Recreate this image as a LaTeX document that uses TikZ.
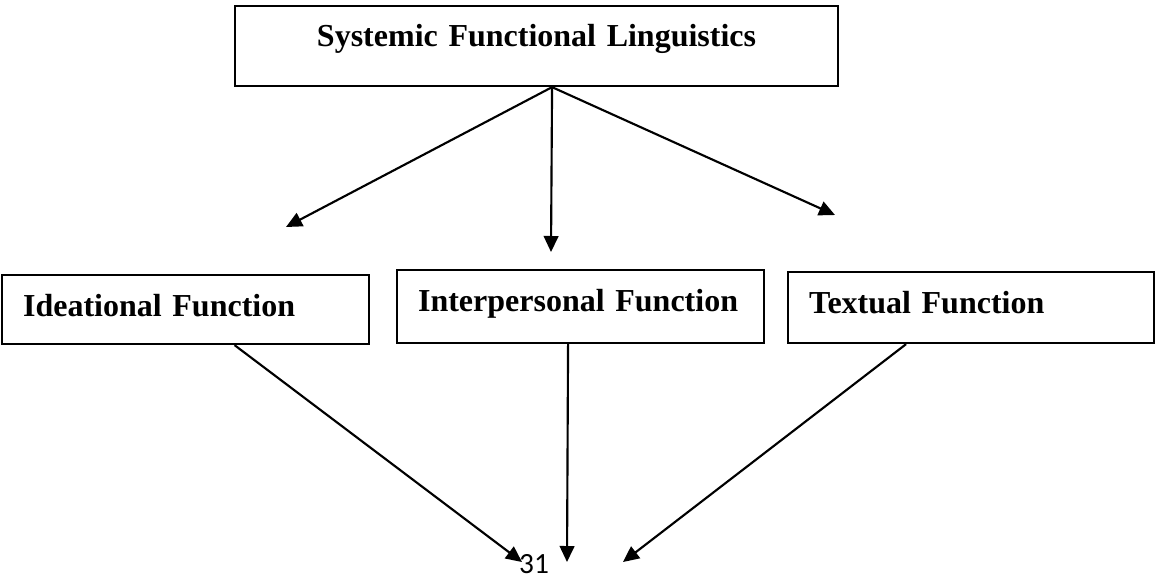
\documentclass[tikz,border=0pt]{standalone}
\usepackage{fontspec}
\setmainfont{Liberation Serif}
\newfontfamily\pagefont{Carlito}
\usepackage{tikz}
\usetikzlibrary{arrows.meta}
\usetikzlibrary{calc}

\begin{document}
\begin{tikzpicture}[x=0.75pt, y=-0.75pt, line width=1.6pt, >={Triangle[length=12pt, width=11pt]}, box/.style = {draw, rectangle, anchor=north west, inner ysep=0pt, inner xsep=15.75pt, text height=30.75pt, font=\fontsize{24}{28}\selectfont\bfseries, align=left}]

    \useasboundingbox (0,0) rectangle (1155,579);

    \node [box, align=center, text width=420.75pt, text height=30pt, text depth=30pt] (sfl) at (234, 5) {Systemic Functional Linguistics};
    \node [box, text width=243.75pt, text depth=21pt] (ide) at (1, 274) {Ideational Function};
    \node [box, text width=243.75pt, text depth=24pt] (int) at (396, 269) {Interpersonal Function};
    \node [box, text width=243pt, text depth=22.5pt] (tex) at (787, 271) {Textual Function};
    \node [anchor=base, inner sep=0pt, font=\pagefont\fontsize{22}{24}\selectfont] (pg) at (534, 573) {31};

    \coordinate (a1) at (286, 227);
    \coordinate (a2) at (551, 252);
    \coordinate (a3) at (835, 215);
    \coordinate (b1) at (522, 562);
    \coordinate (b2) at (567, 562);
    \coordinate (b3) at (623, 562);

    \draw[->] ($(sfl.south)+(15.5,0)$) to (a1);
    \draw[->] ($(sfl.south)+(15.5,0)$) to (a2);
    \draw[->] ($(sfl.south)+(15.5,0)$) to (a3);
    \draw[->] ($(ide.south)+(49,0)$) to (b1);
    \draw[->] ($(int.south)+(-12.5,0)$) to (b2);
    \draw[->] ($(tex.south)+(-65,0)$) to (b3);

\end{tikzpicture}
\end{document}
